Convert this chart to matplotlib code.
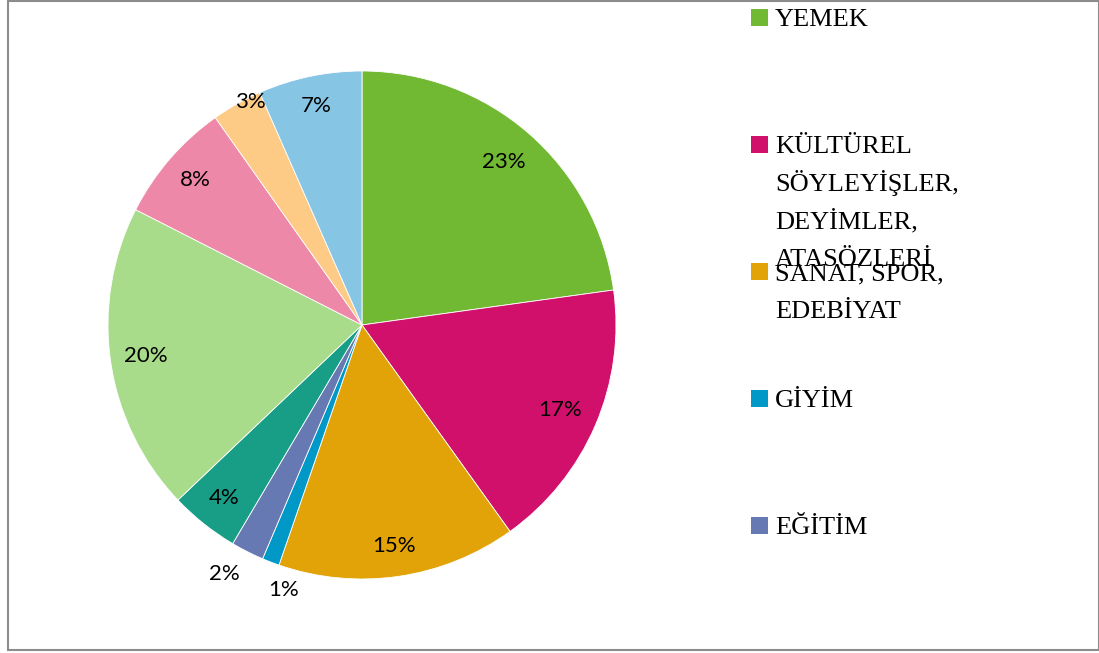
import numpy as np
import matplotlib
matplotlib.use("Agg")
import matplotlib.pyplot as plt
from matplotlib.patches import Rectangle

# slice shares (percent), clockwise from 12 o'clock
values = [22.8, 17.3, 15.2, 1.1, 2.1, 4.4, 19.6, 7.7, 3.2, 6.6]
colors = ['#71B933', '#D0106A', '#E2A309', '#0098C6', '#6679B2',
          '#189E87', '#A8DC8B', '#EE88A8', '#FECB87', '#87C5E5']
# only the first five legend entries are visible in the chart
legend_labels = ['YEMEK',
                 'KÜLTÜREL\nSÖYLEYİŞLER,\nDEYİMLER,\nATASÖZLERİ',
                 'SANAT, SPOR,\nEDEBİYAT',
                 'GİYİM',
                 'EĞİTİM']
# label placement (radius, angle nudge in degrees) - "best fit" style
label_radius = [0.85, 0.85, 0.88, 1.09, 1.12, 0.87, 0.86, 0.87, 0.98, 0.88]
label_nudge = [0, 0, 0, 4.5, -2, 0, 0, 0, -3, 0]

W, H = 1099, 653
fig = plt.figure(figsize=(W / 100, H / 100), dpi=100)

# outer chart border
fig.patches.append(Rectangle((8 / W, 3 / H), 1 - 8 / W, 1 - 4 / H,
                             transform=fig.transFigure, fill=False,
                             edgecolor='#8c8c8c', linewidth=1.5))

cx, cy, r = 362, 325, 254
ax = fig.add_axes([(cx - r) / W, (H - cy - r) / H, 2 * r / W, 2 * r / H])
wedges, _ = ax.pie(values, colors=colors, startangle=90, counterclock=False,
                   radius=1, wedgeprops=dict(edgecolor='white', linewidth=0.6))
ax.set_xlim(-1, 1)
ax.set_ylim(-1, 1)
ax.set_aspect('equal')
ax.axis('off')

total = sum(values)
for w, v, rr, dn in zip(wedges, values, label_radius, label_nudge):
    ang = np.deg2rad((w.theta1 + w.theta2) / 2 + dn)
    ax.text(rr * np.cos(ang), rr * np.sin(ang), '%d%%' % round(100 * v / total),
            ha='center', va='center', fontsize=16, family='Lato', clip_on=False)

# legend drawn by hand (the original overflows and clips its entries)
line_h = 37.5
for i, lab in enumerate(legend_labels):
    yc = 17.5 + i * 127
    fig.patches.append(Rectangle((751 / W, 1 - (yc + 8.5) / H), 17 / W, 17 / H,
                                 transform=fig.transFigure,
                                 facecolor=colors[i], edgecolor='none'))
    for j, line in enumerate(lab.split('\n')):
        fig.text(775 / W, 1 - (yc + 8.7 + j * line_h) / H, line,
                 ha='left', va='baseline', fontsize=19,
                 family='Liberation Serif', color='black')

fig.savefig('out.png', dpi=100)
